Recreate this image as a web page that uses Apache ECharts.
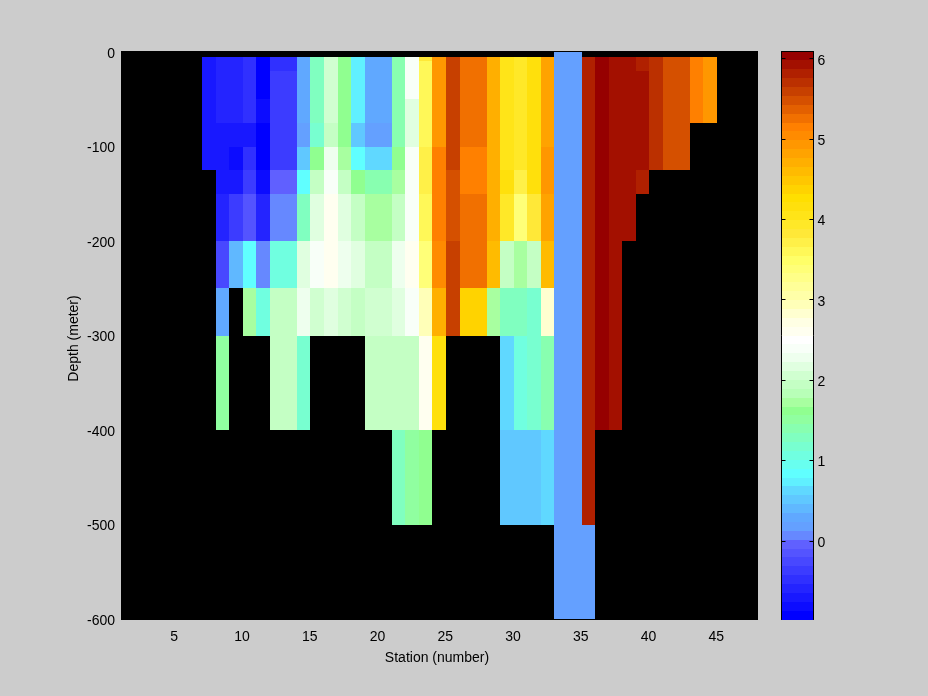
<!DOCTYPE html>
<html>
<head>
<meta charset="utf-8">
<style>html,body{margin:0;padding:0;background:#cccccc}#c{width:928px;height:696px}</style>
<script src="https://cdn.jsdelivr.net/npm/echarts@6/dist/echarts.min.js"></script>
</head>
<body>
<div id="c"></div>
<script>
// Layer edges, metres below the surface
const depthEdges = [0,5,10,20,50,75,100,125,150,200,250,300,400,500,600];
const stationTicks = [5,10,15,20,25,30,35,40,45];
const depthTicks = [0,-100,-200,-300,-400,-500,-600];
const colorTicks = [0,1,2,3,4,5,6];
const colorMin = -0.98, colorMax = 6.09;

// Value per layer, per station (first entry is the 0-5 m layer)
const s07=[null,-.70,-.70,-.70,-.70,-.70,-.70];
const s08=[null,-.59,-.59,-.59,-.59,-.70,-.70,-.70,-.59,-.26,.29,1.51];
const s09=[null,-.59,-.59,-.59,-.59,-.70,-.81,-.70,-.37,.40];
const s10=[null,-.48,-.48,-.48,-.48,-.70,-.48,-.37,-.15,.84,1.73];
const s11=[null,-.92,-.92,-.92,-.81,-.92,-.92,-.81,-.59,.07,1.06];
const s12=[null,-.48,-.48,-.37,-.37,-.37,-.37,-.04,.07,1.06,1.95,1.95];
const s13=[null,-.48,-.48,-.37,-.37,-.37,-.37,-.04,.07,1.06,1.95,1.95];
const s14=[null,.29,.29,.29,.29,.18,.51,.84,1.28,2.17,2.28,1.17];
const s15=[null,1.28,1.28,1.28,1.28,1.17,1.62,1.95,2.17,2.39,2.06];
const s16=[null,2.06,2.06,2.06,2.06,1.95,2.28,2.39,2.61,2.61,2.17];
const s17=[null,1.62,1.62,1.62,1.62,1.62,1.73,1.95,2.17,2.28,2.06];
const s18=[null,.73,.73,.73,.73,.51,.84,1.62,1.95,2.17,1.95];
const s19=[null,.29,.29,.29,.29,.18,.62,1.40,1.73,1.95,2.06,1.95];
const s20=[null,.29,.29,.29,.29,.18,.62,1.40,1.73,1.95,2.06,1.95];
const s21=[null,1.40,1.40,1.40,1.40,1.40,1.62,1.73,1.95,2.28,2.17,1.95,1.28];
const s22=[null,2.39,2.39,2.39,2.17,2.17,2.39,2.39,2.39,2.61,2.39,1.95,1.51];
const s23=[null,3.83,3.61,3.61,3.61,3.61,3.72,3.72,3.61,3.38,2.94,2.61,1.62];
const s24=[null,4.93,4.93,4.93,4.93,4.93,5.15,5.15,5.15,5.04,4.71,4.16];
const s25=[null,5.59,5.59,5.59,5.59,5.59,5.59,5.48,5.48,5.59,5.59];
const s26=[null,5.26,5.26,5.26,5.26,5.26,5.15,5.15,5.26,5.26,4.38];
const s27=[null,5.26,5.26,5.26,5.26,5.26,5.15,5.15,5.26,5.26,4.38];
const s28=[null,4.71,4.71,4.71,4.71,4.71,4.71,4.71,4.71,4.60,1.73];
const s29=[null,4.05,4.05,4.05,4.05,4.05,4.05,4.16,3.94,1.95,1.28,.62,.51];
const s30=[null,3.94,3.94,3.94,3.94,3.94,3.94,3.72,3.38,1.73,1.28,1.06,.51];
const s31=[null,4.16,4.16,4.16,4.16,4.16,4.16,4.16,3.83,1.95,1.17,1.17,.51];
const s32=[null,4.82,4.82,4.82,4.82,4.82,4.93,4.93,4.82,4.60,2.83,1.40,.62];
const s33=[.18,.18,.18,.18,.18,.18,.18,.18,.18,.18,.18,.18,.18,.18];
const s34=[.18,.18,.18,.18,.18,.18,.18,.18,.18,.18,.18,.18,.18,.18];
const s35=[null,5.81,5.81,5.81,5.81,5.81,5.81,5.81,5.81,5.81,5.81,5.81,5.81,.18];
const s36=[null,6.03,6.03,6.03,6.03,6.03,6.03,6.03,6.03,6.03,6.03,6.03];
const s37=[null,5.92,5.92,5.92,5.92,5.92,5.92,5.92,5.92,5.92,5.92,5.92];
const s38=[null,5.92,5.92,5.92,5.92,5.92,5.92,5.92,5.92];
const s39=[null,5.81,5.81,5.92,5.92,5.92,5.92,5.81];
const s40=[null,5.70,5.70,5.70,5.70,5.70,5.70];
const s41=[null,5.48,5.48,5.48,5.48,5.48,5.48];
const s42=[null,5.48,5.48,5.48,5.48,5.48,5.48];
const s43=[null,5.15,5.15,5.15,5.15];
const s44=[null,4.93,4.93,4.93,4.93];
const stations={7:s07,8:s08,9:s09,10:s10,11:s11,12:s12,13:s13,14:s14,15:s15,16:s16,17:s17,18:s18,19:s19,20:s20,
  21:s21,22:s22,23:s23,24:s24,25:s25,26:s26,27:s27,28:s28,29:s29,30:s30,31:s31,32:s32,33:s33,34:s34,35:s35,
  36:s36,37:s37,38:s38,39:s39,40:s40,41:s41,42:s42,43:s43,44:s44};

// 64-step colour map, bottom to top
const palette=['#0000ff','#0c0cff','#1818ff','#2424ff','#3030ff','#3c3cff','#4848ff','#5454ff',
'#6060ff','#6688ff','#64a0ff','#60a8ff','#60b8ff','#60c8ff','#60d8ff','#60f0ff',
'#60ffff','#68ffef','#70ffe0','#78ffd0','#80ffc0','#88ffb0','#90ffa0','#90ff90',
'#a8ffa0','#b8ffb8','#c4ffc4','#d0ffd0','#e0ffe0','#eeffee','#f8fff8','#ffffff',
'#fffff0','#ffffe4','#ffffd0','#ffffb8','#ffffa8','#ffff98','#ffff88','#ffff78',
'#ffff68','#fff858','#fff048','#ffe838','#ffe828','#ffe418','#ffe00c','#ffdf00',
'#ffd300','#ffc700','#ffbb00','#ffaf00','#ffa300','#ff9700','#ff8b00','#ff8000',
'#f17000','#e36000','#d55000','#c74000','#bb3000','#b02000','#a31000','#960000'];

const step=(colorMax-colorMin)/palette.length;
const colorOf=v=>palette[Math.max(0,Math.min(palette.length-1,Math.floor((v-colorMin)/step)))];

const cells=[];
Object.keys(stations).forEach(k=>{
  stations[k].forEach((v,i)=>{ if(v!==null) cells.push([+k,-depthEdges[i],-depthEdges[i+1],v]); });
});
const barCells=palette.map((c,i)=>[0,colorMin+i*step,colorMin+(i+1)*step,c]);

const FONT='"Liberation Sans"', FS=14;
const chart=echarts.init(document.getElementById('c'),null,{renderer:'canvas',width:928,height:696});
chart.setOption({
  animation:false,
  backgroundColor:'#cccccc',
  tooltip:{show:false},
  graphic:{elements:[{type:'rect',z:-10,silent:true,shape:{x:121,y:51,width:637,height:569},style:{fill:'#000'}}]},
  grid:[
    {left:121,top:52,width:637,height:567,show:false},
    {left:781.5,top:51.5,width:32,height:568,show:true,backgroundColor:'#000',borderColor:'#000',borderWidth:1}
  ],
  xAxis:[
    {type:'value',gridIndex:0,min:1,max:48,position:'bottom',splitLine:{show:false},
     axisLine:{show:false},
     axisTick:{show:false,customValues:stationTicks},
     axisLabel:{color:'#000',fontFamily:FONT,fontSize:FS,margin:11,customValues:stationTicks,hideOverlap:false,padding:[0,2,0,0]},
     name:'Station (number)',nameLocation:'middle',nameGap:32,nameMoveOverlap:false,
     nameTextStyle:{color:'#000',fontFamily:FONT,fontSize:FS,padding:[0,5,0,0]}},
    {type:'value',gridIndex:1,min:0,max:1,show:false}
  ],
  yAxis:[
    {type:'value',gridIndex:0,min:-600,max:0,interval:100,splitLine:{show:false},
     axisLine:{show:false},axisTick:{show:false},
     axisLabel:{color:'#000',fontFamily:FONT,fontSize:FS,margin:6,customValues:depthTicks,verticalAlign:'top',lineHeight:4},
     name:'Depth (meter)',nameLocation:'middle',nameGap:40,nameMoveOverlap:false,
     nameTextStyle:{color:'#000',fontFamily:FONT,fontSize:FS,padding:[0,6,0,0]}},
    {type:'value',gridIndex:1,position:'left',min:colorMin,max:colorMax,splitLine:{show:false},z:10,
     axisLine:{show:true,onZero:false,lineStyle:{color:'#000'}},
     axisTick:{show:true,inside:true,length:4,customValues:colorTicks,lineStyle:{color:'#000'}},
     axisLabel:{show:true,color:'transparent',formatter:()=>'',customValues:colorTicks}},
    {type:'value',gridIndex:1,position:'right',min:colorMin,max:colorMax,splitLine:{show:false},z:10,
     axisLine:{show:true,onZero:false,lineStyle:{color:'#000'}},
     axisTick:{show:true,inside:true,length:4,customValues:colorTicks,lineStyle:{color:'#000'}},
     axisLabel:{color:'#000',fontFamily:FONT,fontSize:FS,margin:4,customValues:colorTicks,verticalAlign:'top',lineHeight:4}}
  ],
  series:[
    {type:'custom',xAxisIndex:0,yAxisIndex:0,silent:true,clip:true,data:cells,
     encode:{x:0,y:[1,2]},
     renderItem:(p,api)=>{
       const s=api.value(0),a=api.coord([s,api.value(1)]),b=api.coord([s+1,api.value(2)]);
       const x0=Math.round(a[0]-0.3),x1=Math.round(b[0]-0.3),y0=Math.round(a[1]),y1=Math.round(b[1]);
       return {type:'rect',shape:{x:x0,y:y0,width:x1-x0,height:y1-y0},style:{fill:colorOf(api.value(3)),stroke:null}};
     }},
    {type:'custom',xAxisIndex:1,yAxisIndex:1,silent:true,z:1,data:barCells,
     encode:{x:0,y:[1,2]},
     renderItem:(p,api)=>{
       const a=api.coord([0,api.value(1)]),b=api.coord([1,api.value(2)]);
       const y0=Math.round(a[1]),y1=Math.round(b[1]);
       return {type:'rect',shape:{x:a[0],y:y1,width:b[0]-a[0],height:y0-y1},style:{fill:palette[p.dataIndex],stroke:null}};
     }}
  ]
});
</script>
</body>
</html>
